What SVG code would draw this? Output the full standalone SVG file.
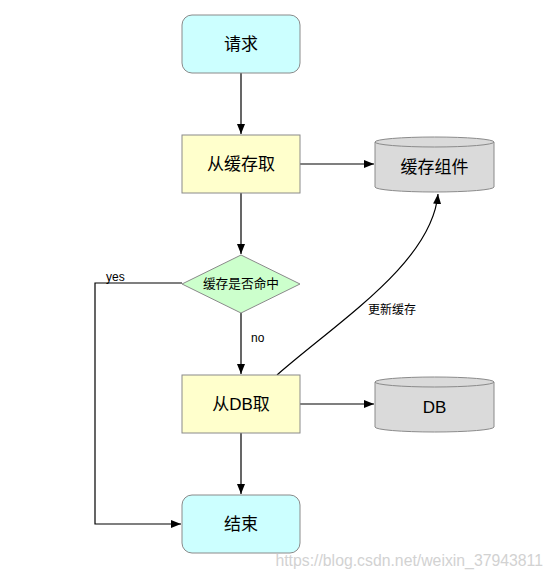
<svg xmlns="http://www.w3.org/2000/svg" width="550" height="578" viewBox="0 0 550 578">
<style>
.t{font-family:"Liberation Sans","Noto Sans CJK SC",sans-serif;fill:#000;text-anchor:middle;dominant-baseline:central}
.term{fill:#ccffff;stroke:#8a8a8a;stroke-width:1}
.proc{fill:#ffffcc;stroke:#8a8a8a;stroke-width:1}
.dec{fill:#ccffcc;stroke:#8a8a8a;stroke-width:1}
.cyl{fill:#dadada;stroke:#8a8a8a;stroke-width:1}
.c{fill:none;stroke:#000;stroke-width:1.2}
.lbl{font-family:"Liberation Sans","Noto Sans CJK SC",sans-serif;font-size:12px;fill:#000}
</style>
<defs>
<marker id="ah" viewBox="0 0 10 10" refX="10" refY="5" markerWidth="10" markerHeight="10" markerUnits="userSpaceOnUse" orient="auto">
<path d="M0,1 L10,5 L0,9 Z" fill="#000"/>
</marker>
</defs>
<rect width="550" height="578" fill="#fff"/>
<g id="connectors">
<line class="c" x1="241" y1="73" x2="241" y2="134" marker-end="url(#ah)"/>
<line class="c" x1="300" y1="164" x2="374" y2="164" marker-end="url(#ah)"/>
<line class="c" x1="241" y1="193" x2="241" y2="254" marker-end="url(#ah)"/>
<line class="c" x1="241" y1="313" x2="241" y2="374" marker-end="url(#ah)"/>
<line class="c" x1="300" y1="404" x2="374" y2="404" marker-end="url(#ah)"/>
<line class="c" x1="241" y1="433" x2="241" y2="494" marker-end="url(#ah)"/>
<polyline class="c" points="182,283 95,283 95,524 181,524" marker-end="url(#ah)"/>
<path class="c" d="M277,375 C340,320 432,262 438,194" marker-end="url(#ah)"/>
<text class="lbl" x="106" y="281">yes</text>
<text class="lbl" x="251" y="342">no</text>
<text class="lbl" x="368" y="314">更新缓存</text>
</g>
<g id="n-request">
<rect class="term" x="182" y="15" width="118" height="58" rx="10"/>
<text class="t" x="241" y="44" font-size="17">请求</text>
</g>
<g id="n-cache-get">
<rect class="proc" x="182" y="135" width="118" height="58"/>
<text class="t" x="241" y="164" font-size="17">从缓存取</text>
</g>
<g id="n-cache">
<path class="cyl" d="M375,142 A59.5,5 0 0 1 494,142 L494,187 A59.5,5 0 0 1 375,187 Z"/>
<path class="cyl" d="M375,142 A59.5,5 0 0 0 494,142" fill="none"/>
<text class="t" x="434.5" y="167" font-size="17">缓存组件</text>
</g>
<g id="n-hit">
<polygon class="dec" points="241,255 300,284 241,313 182,284"/>
<text class="t" x="241" y="284" font-size="12.7">缓存是否命中</text>
</g>
<g id="n-db-get">
<rect class="proc" x="182" y="375" width="118" height="58"/>
<text class="t" x="241" y="404" font-size="17">从DB取</text>
</g>
<g id="n-db">
<path class="cyl" d="M375,382 A59.5,5 0 0 1 494,382 L494,427 A59.5,5 0 0 1 375,427 Z"/>
<path class="cyl" d="M375,382 A59.5,5 0 0 0 494,382" fill="none"/>
<text class="t" x="434.5" y="407" font-size="17">DB</text>
</g>
<g id="n-end">
<rect class="term" x="182" y="495" width="118" height="58" rx="10"/>
<text class="t" x="241" y="524" font-size="17">结束</text>
</g>
<text x="543" y="566" font-family="Liberation Sans, sans-serif" font-size="15.8" fill="#d2d2d2" text-anchor="end">https://blog.csdn.net/weixin_37943811</text>
</svg>
